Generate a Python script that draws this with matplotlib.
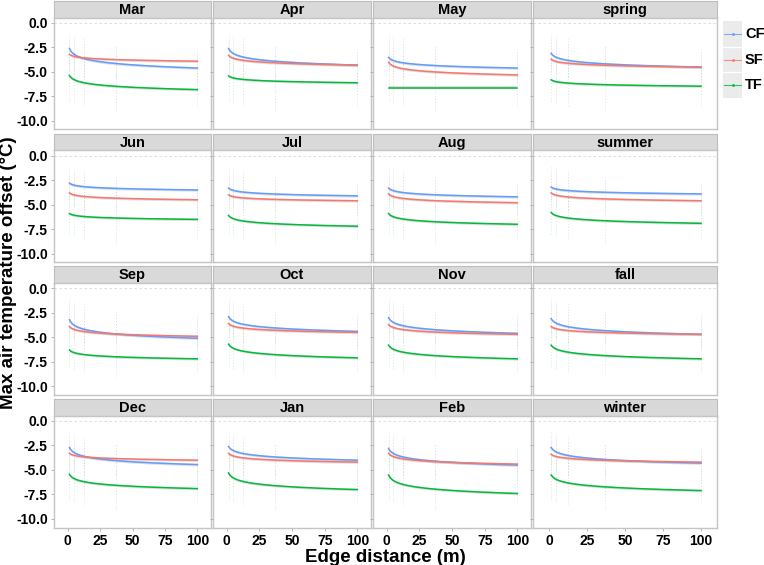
import numpy as np
import matplotlib
matplotlib.use('Agg')
from matplotlib import pyplot as plt

plt.rcParams['font.family'] = ['Liberation Sans', 'DejaVu Sans']
plt.rcParams['font.weight'] = 'bold'

# facet order (row by row)
panels = ['Mar', 'Apr', 'May', 'spring',
          'Jun', 'Jul', 'Aug', 'summer',
          'Sep', 'Oct', 'Nov', 'fall',
          'Dec', 'Jan', 'Feb', 'winter']
groups = ['CF', 'SF', 'TF']
colors = {'CF': '#619CFF', 'SF': '#F8766D', 'TF': '#00BA38'}

# sampled edge distances (m)
dist = [1.4, 4.6, 12.3, 37, 100]

# fitted offset at the near edge (x=1.4) and at 100 m, per panel
cf_start = [-2.6, -2.6, -3.5, -3.1, -2.8, -3.3, -3.3, -3.2, -3.2, -2.9, -3.0, -3.1, -2.7, -2.6, -2.8, -2.7]
cf_end   = [-4.6, -4.3, -4.6, -4.5, -3.5, -4.1, -4.2, -3.9, -5.1, -4.4, -4.6, -4.7, -4.45, -4.0, -4.5, -4.3]
sf_start = [-3.2, -3.3, -4.0, -3.7, -3.8, -4.0, -3.9, -3.8, -3.9, -3.6, -3.7, -3.9, -3.3, -3.3, -3.3, -3.4]
sf_end   = [-3.9, -4.3, -5.3, -4.5, -4.5, -4.6, -4.8, -4.6, -4.9, -4.5, -4.7, -4.7, -4.0, -4.2, -4.4, -4.2]
tf_start = [-5.35, -5.4, -6.6, -5.8, -5.9, -6.1, -5.9, -5.8, -6.3, -5.7, -5.8, -5.8, -5.45, -5.3, -5.5, -5.5]
tf_end   = [-6.8, -6.1, -6.6, -6.45, -6.5, -7.2, -7.0, -6.9, -7.2, -7.1, -7.2, -7.2, -6.9, -7.0, -7.4, -7.1]

fits = {'CF': (cf_start, cf_end), 'SF': (sf_start, sf_end), 'TF': (tf_start, tf_end)}

# spread of the raw observations at each distance (top, bottom)
raw_top = {'CF': [-1.0, -1.2, -1.5, -2.2, -2.5],
           'SF': [-1.5, -1.8, -2.0, -2.5, -3.0],
           'TF': [-3.5, -3.8, -4.0, -5.0, -5.0]}
raw_bot = {'CF': [-4.5, -5.0, -5.5, -5.5, -6.0],
           'SF': [-5.0, -5.2, -5.5, -5.5, -5.8],
           'TF': [-8.0, -8.2, -8.5, -9.0, -8.5]}

yticks = [0.0, -2.5, -5.0, -7.5, -10.0]
xticks = [0, 25, 50, 75, 100]

W, H = 764, 565
fig = plt.figure(figsize=(W / 100, H / 100), dpi=100)

col_x = [54, 213, 373, 533]
col_w = [157, 158, 158, 184]
row_y = [1, 133.7, 266.3, 399]
strip_h = 16.5
panel_h = 112

xs = np.linspace(dist[0], dist[-1], 200)

def fx(px):
    return px / W

def fy(py):
    return 1 - py / H

for i, name in enumerate(panels):
    r, c = divmod(i, 4)
    x0, w = col_x[c], col_w[c]
    top = row_y[r]
    # strip
    sax = fig.add_axes([fx(x0), fy(top + strip_h), fx(w), strip_h / H])
    sax.set_facecolor('#D9D9D9')
    sax.set_xticks([])
    sax.set_yticks([])
    for s in sax.spines.values():
        s.set_color('#BEBEBE')
        s.set_linewidth(0.8)
    sax.text(0.5, 0.45, name, ha='center', va='center', fontsize=10.5,
             fontweight='bold', transform=sax.transAxes)
    # panel
    ax = fig.add_axes([fx(x0), fy(top + strip_h + panel_h), fx(w), panel_h / H])
    ax.set_xlim(-10.5, 110.5)
    ax.set_ylim(-10.87, 0.56)
    ax.set_xticks(xticks)
    ax.set_yticks(yticks)
    ax.axhline(0, color='#D8D8D8', linestyle=(0, (3, 3)), linewidth=0.6, zorder=0)
    for s in ax.spines.values():
        s.set_color('#C4C4C4')
        s.set_linewidth(1.0)
    ax.tick_params(length=2.5, width=0.6, color='#AAAAAA', labelsize=10, pad=2)
    if c == 0:
        ax.set_yticklabels(['%.1f' % v for v in yticks], fontweight='bold')
    else:
        ax.set_yticklabels([])
    if r == 3:
        ax.set_xticklabels([str(v) for v in xticks], fontweight='bold')
    else:
        ax.set_xticklabels([])
        ax.tick_params(axis='x', length=0)
    for g in groups:
        ax.vlines(dist, raw_bot[g], raw_top[g], colors=colors[g], alpha=0.22,
                  linewidth=0.7, linestyles=(0, (1, 2)))
    for g in groups:
        y0, y1 = fits[g][0][i], fits[g][1][i]
        ys = y0 + (y1 - y0) * np.log(xs / dist[0]) / np.log(dist[-1] / dist[0])
        ax.fill_between(xs, ys - 0.13, ys + 0.13, color='#999999', alpha=0.3, linewidth=0)
        ax.plot(xs, ys, color=colors[g], linewidth=1.1)

# legend
lax = fig.add_axes([fx(723), fy(98), fx(19), 77 / H])
lax.set_xlim(0, 1)
lax.set_ylim(0, 3)
lax.set_facecolor('#EBEBEB')
lax.set_xticks([])
lax.set_yticks([])
for s in lax.spines.values():
    s.set_visible(False)
for k, g in enumerate(groups):
    yk = 2.5 - k
    lax.plot([0.05, 0.95], [yk, yk], color=colors[g], linewidth=0.8, alpha=0.8)
    lax.plot([0.5], [yk], marker='.', markersize=2, color=colors[g])
    if k > 0:
        lax.axhline(3 - k, color='white', linewidth=1.0)
    fig.text(fx(745), fy(98 - 77 * (yk / 3)), g, fontsize=10.5, fontweight='bold',
             va='center', ha='left')

fig.text(fx(9), fy((18 + 528) / 2), 'Max air temperature offset (\u00b0C)', rotation=90,
         fontsize=13.5, fontweight='bold', ha='center', va='center')
fig.text(fx((54 + 717) / 2), fy(557), 'Edge distance (m)', fontsize=13.5,
         fontweight='bold', ha='center', va='center')

fig.savefig('out.png', dpi=100)
